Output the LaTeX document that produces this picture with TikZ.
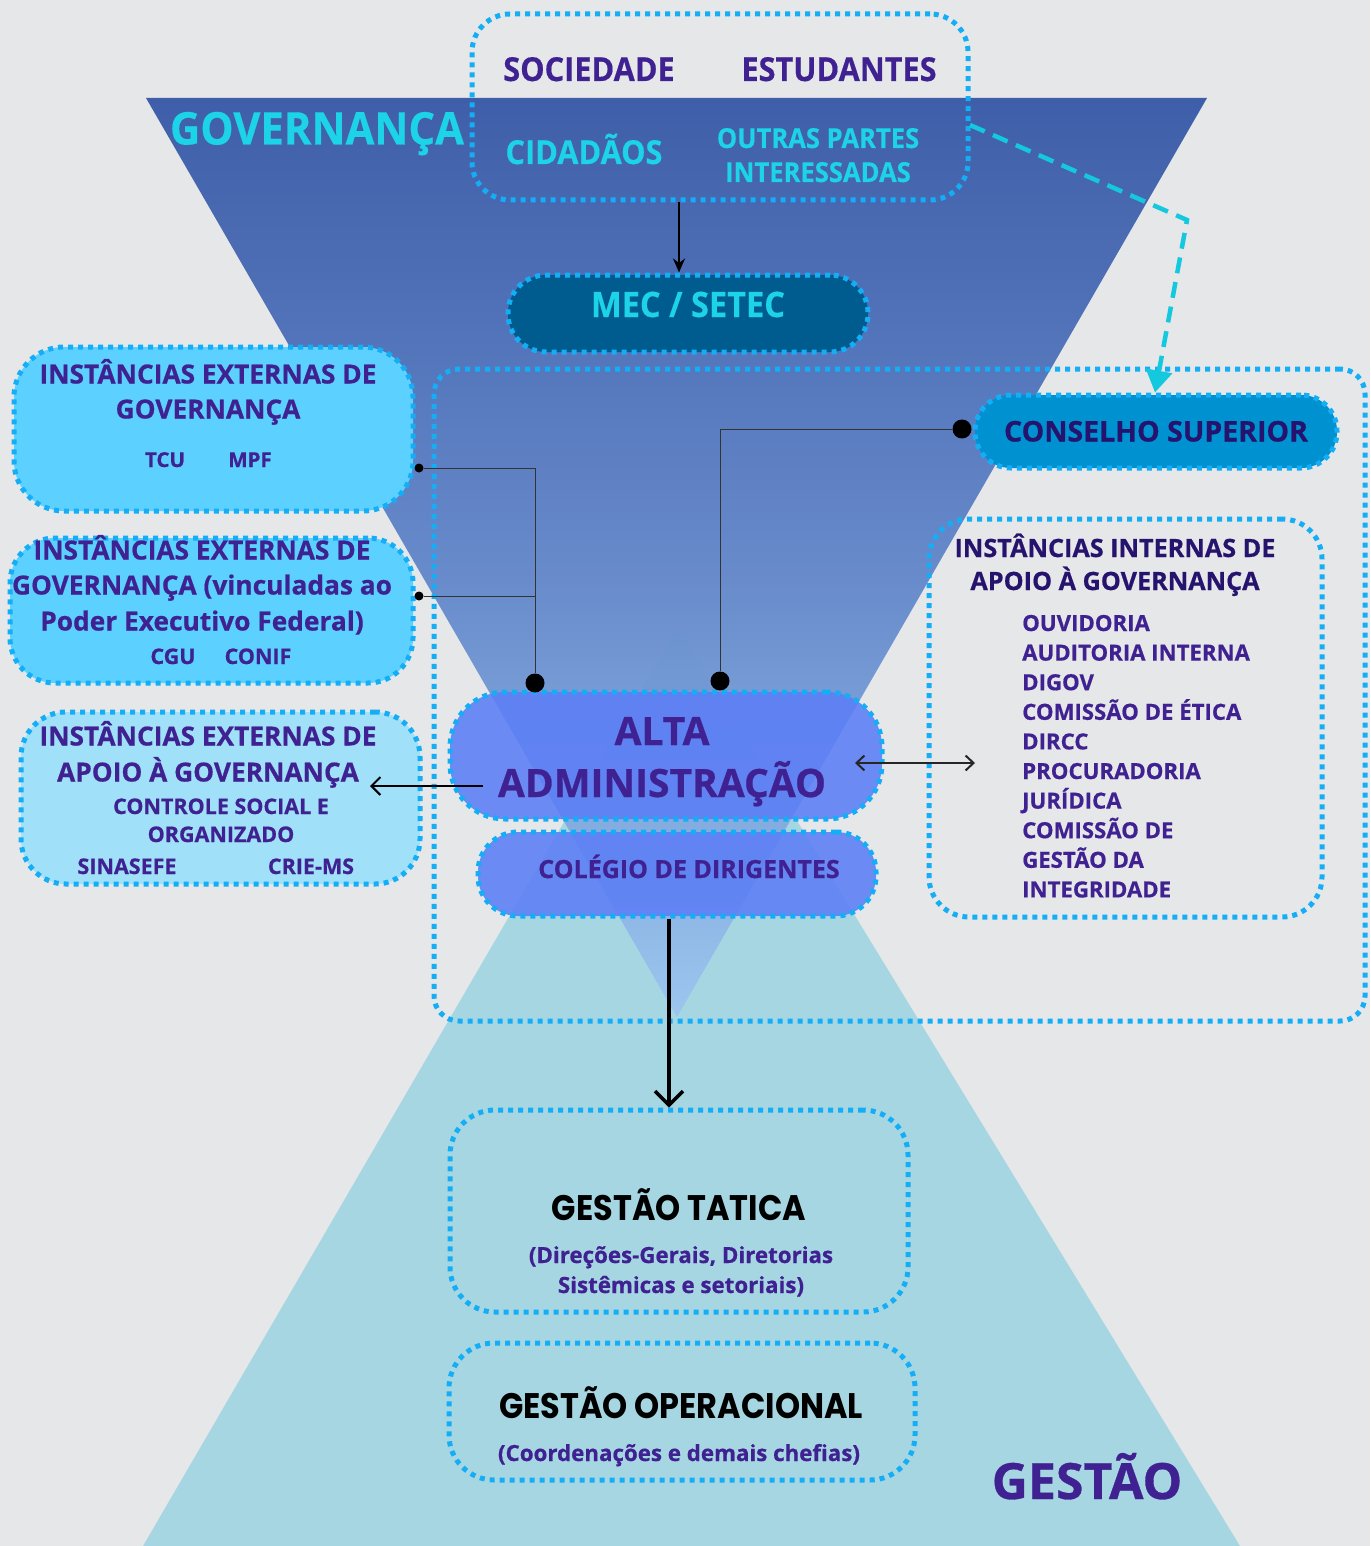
\documentclass[tikz,border=0pt]{standalone}
\usepackage{fontspec}
\setmainfont{Open Sans}[BoldFeatures={FakeBold=0.6}]
\newfontfamily\condf{Open Sans}[FakeStretch=0.93,BoldFeatures={FakeBold=0.4}]
\newfontfamily\geof{Poppins}[FakeStretch=0.9]
\usetikzlibrary{arrows.meta,calc}
\definecolor{bg}{HTML}{E6E7E9}
\definecolor{purp}{HTML}{3F2191}
\definecolor{dpurp}{HTML}{26136E}
\definecolor{cyant}{HTML}{1DD3E8}
\definecolor{dotc}{HTML}{14AEF6}
\definecolor{boxa}{HTML}{5CD1FF}
\definecolor{boxb}{HTML}{A0E1F9}
\definecolor{mecc}{HTML}{005C8E}
\definecolor{consc}{HTML}{0091D1}
\definecolor{altac}{HTML}{5C7EF6}
\definecolor{gestc}{HTML}{A7D6E3}
\definecolor{govtop}{HTML}{395AA7}
\definecolor{govmid}{HTML}{6286C9}
\definecolor{govbot}{HTML}{9CC6F0}
\definecolor{dashc}{HTML}{14C8DD}
\newcommand\fsz[1]{\fontsize{#1pt}{#1pt}\selectfont}
\begin{document}
\begin{tikzpicture}[x=1pt,y=-1pt,
  dotbox/.style={draw=dotc, line width=5pt, dash pattern=on 5pt off 5pt, rectangle},
  txt/.style={inner sep=0pt, anchor=base},
  conn/.style={draw=black!80, line width=1pt},
  smalldot/.style={circle, fill=black, inner sep=0pt, minimum size=9pt},
  bigdot/.style={circle, fill=black, inner sep=0pt, minimum size=19pt},
]
\useasboundingbox (0,0) rectangle (1370,1546);
\fill[bg] (0,0) rectangle (1370,1546);

% gestao triangle
\fill[gestc] (143,1546) -- (678,626) -- (1240,1546) -- cycle;
% governance triangle
\shade[top color=govtop, bottom color=govbot, middle color=govmid, opacity=0.97]
  (146,98) -- (1207,98) -- (677,1017) -- cycle;

% stakeholders box
\node[dotbox, minimum width=496pt, minimum height=186pt, rounded corners=38pt] (stake) at (720,107) {};
\node[txt, font=\condf\bfseries\fsz{45}, text=cyant] (gov) at (317,144.5) {GOVERNANÇA};
\node[txt, font=\condf\bfseries\fsz{33}, text=purp] (soc) at (589,81) {SOCIEDADE};
\node[txt, font=\condf\bfseries\fsz{33}, text=purp] (est) at (839,81) {ESTUDANTES};
\node[txt, font=\condf\bfseries\fsz{33}, text=cyant] (cid) at (584,164) {CIDADÃOS};
\node[txt, font=\condf\bfseries\fsz{27.5}, text=cyant] (out1) at (818,148) {OUTRAS PARTES};
\node[txt, font=\condf\bfseries\fsz{27.5}, text=cyant] (out2) at (818,182) {INTERESSADAS};

% MEC
\node[dotbox, fill=mecc, minimum width=360pt, minimum height=77pt, rounded corners=38pt] (mec) at (688,313.5) {};
\node[txt, font=\condf\bfseries\fsz{35}, text=cyant] (mect) at (688,317) {MEC / SETEC};

% big container
\node[dotbox, minimum width=931pt, minimum height=652pt, rounded corners=25pt] (cont) at (899.5,695) {};

% conselho
\node[dotbox, fill=consc, minimum width=362pt, minimum height=73pt, rounded corners=36pt] (cons) at (1156,431.5) {};
\node[txt, font=\bfseries\fsz{28.5}, text=dpurp] (const) at (1156,441.5) {CONSELHO SUPERIOR};

% external boxes
\node[dotbox, fill=boxa, minimum width=399pt, minimum height=164pt, rounded corners=50pt] (ext1) at (213.5,429) {};
\node[txt, font=\bfseries\fsz{26.3}, text=purp] (e1a) at (208,383.5) {INSTÂNCIAS EXTERNAS DE};
\node[txt, font=\bfseries\fsz{26.3}, text=purp] (e1b) at (208,418.5) {GOVERNANÇA};
\node[txt, font=\bfseries\fsz{20.5}, text=purp] (e1c) at (165,467) {TCU};
\node[txt, font=\bfseries\fsz{20.5}, text=purp] (e1d) at (250,467) {MPF};

\node[dotbox, fill=boxa, minimum width=403pt, minimum height=145pt, rounded corners=45pt] (ext2) at (211.5,610.5) {};
\node[txt, font=\bfseries\fsz{26.3}, text=purp] (e2a) at (202,559.5) {INSTÂNCIAS EXTERNAS DE};
\node[txt, font=\bfseries\fsz{26.3}, text=purp] (e2b) at (202,594.5) {GOVERNANÇA (vinculadas ao};
\node[txt, font=\bfseries\fsz{26.3}, text=purp] (e2c) at (202,630.5) {Poder Executivo Federal)};
\node[txt, font=\bfseries\fsz{21.5}, text=purp] (e2d) at (173,664) {CGU};
\node[txt, font=\bfseries\fsz{21.5}, text=purp] (e2e) at (258,664) {CONIF};

\node[dotbox, fill=boxb, minimum width=399pt, minimum height=172pt, rounded corners=45pt] (ext3) at (220.5,798) {};
\node[txt, font=\bfseries\fsz{26.3}, text=purp] (e3a) at (208,745.5) {INSTÂNCIAS EXTERNAS DE};
\node[txt, font=\bfseries\fsz{26.3}, text=purp] (e3b) at (208,781.5) {APOIO À GOVERNANÇA};
\node[txt, font=\bfseries\fsz{21.5}, text=purp] (e3c) at (221,814) {CONTROLE SOCIAL E};
\node[txt, font=\bfseries\fsz{21.5}, text=purp] (e3d) at (221,842) {ORGANIZADO};
\node[txt, font=\bfseries\fsz{21.5}, text=purp] (e3e) at (127,874) {SINASEFE};
\node[txt, font=\bfseries\fsz{21.5}, text=purp] (e3f) at (311,874) {CRIE-MS};

% alta administracao
\node[dotbox, fill=altac, fill opacity=0.88, minimum width=432pt, minimum height=127pt, rounded corners=55pt] (alta) at (666,755.5) {};
\node[txt, font=\bfseries\fsz{39}, text=purp] (alt1) at (662,745) {ALTA};
\node[txt, font=\bfseries\fsz{39}, text=purp] (alt2) at (662,797) {ADMINISTRAÇÃO};
\node[dotbox, fill=altac, fill opacity=0.88, minimum width=398pt, minimum height=84pt, rounded corners=40pt] (coleg) at (677,874) {};
\node[txt, font=\bfseries\fsz{25}, text=purp] (colt) at (689,878) {COLÉGIO DE DIRIGENTES};

% internal box
\node[dotbox, minimum width=393pt, minimum height=398pt, rounded corners=40pt] (intb) at (1125.5,718) {};
\node[txt, font=\bfseries\fsz{25.2}, text=dpurp] (ia) at (1115,557) {INSTÂNCIAS INTERNAS DE};
\node[txt, font=\bfseries\fsz{25.2}, text=dpurp] (ib) at (1115,590) {APOIO À GOVERNANÇA};
\foreach \t [count=\i] in {OUVIDORIA,AUDITORIA INTERNA,DIGOV,COMISSÃO DE ÉTICA,DIRCC,PROCURADORIA,JURÍDICA,COMISSÃO DE,GESTÃO DA,INTEGRIDADE}
  \node[inner sep=0pt, anchor=base west, font=\bfseries\fsz{22.2}, text=purp] (it\i) at (1022,{631+29.6*(\i-1)}) {\t};

% gestao boxes
\node[dotbox, minimum width=458pt, minimum height=202pt, rounded corners=45pt] (tat) at (679,1211) {};
\node[txt, font=\geof\bfseries\fsz{35.5}, text=black] (tat1) at (679,1220) {GESTÃO TATICA};
\node[txt, font=\bfseries\fsz{22.3}, text=purp] (tat2) at (681,1263) {(Direções-Gerais, Diretorias};
\node[txt, font=\bfseries\fsz{22.3}, text=purp] (tat3) at (681,1293) {Sistêmicas e setoriais)};
\node[dotbox, minimum width=466pt, minimum height=137pt, rounded corners=45pt] (ope) at (682,1411.5) {};
\node[txt, font=\geof\bfseries\fsz{35.5}, text=black] (ope1) at (681,1418) {GESTÃO OPERACIONAL};
\node[txt, font=\bfseries\fsz{22.3}, text=purp] (ope2) at (679,1461) {(Coordenações e demais chefias)};
\node[txt, font=\bfseries\fsz{50}, text=purp] (gest) at (1087,1499) {GESTÃO};

% connectors
\coordinate (ax) at (679,0);
\draw[line width=2.5pt, -{Stealth[length=14pt,width=12pt]}] (stake.south -| ax) -- (mec.north -| ax);

\coordinate (ds) at (970,125);
\coordinate (db) at (1187,220);
\coordinate (dt) at (1155,0);
\draw[draw=dashc, line width=4.5pt, dash pattern=on 16pt off 9pt, -{Triangle[length=22pt,width=26pt]}] (ds) -- (db) -- (cons.north -| dt);

\node[smalldot] (d1) at (419,468) {};
\node[smalldot] (d2) at (419,596) {};
\node[bigdot] (b1) at (535,683) {};
\node[bigdot] (b2) at (720,681) {};
\node[bigdot] (b3) at (962,429) {};
\coordinate (j1) at (535,468);
\coordinate (j2) at (535,596);
\coordinate (j3) at (720,429);
\draw[conn] (d1) -- (j1) -- (b1);
\draw[conn] (d2) -- (j2);
\draw[conn] (b3) -- (j3) -- (b2);

\coordinate (la) at (483,786);
\coordinate (lb) at (370,786);
\draw[line width=2.2pt, -{Straight Barb[length=9pt,width=18pt,line width=2pt]}] (la) -- (lb);

\coordinate (ra) at (855,763);
\coordinate (rb) at (975,763);
\draw[line width=2.2pt, draw=black!85, {Straight Barb[length=8pt,width=15pt,line width=2pt]}-{Straight Barb[length=8pt,width=15pt,line width=2pt]}] (ra) -- (rb);

\coordinate (vx) at (669,0);
\draw[line width=3.5pt, -{Straight Barb[length=14pt,width=28pt,line width=3.5pt]}] (coleg.south -| vx) -- (tat.north -| vx);
\end{tikzpicture}
\end{document}
